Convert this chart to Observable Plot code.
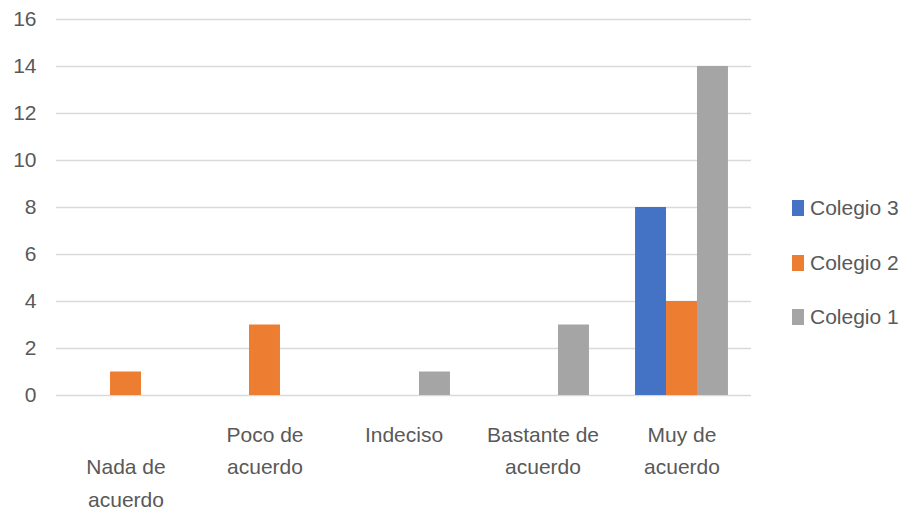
<!DOCTYPE html>
<html>
<head>
<meta charset="utf-8">
<script src="https://cdn.jsdelivr.net/npm/d3@7"></script>
<script src="https://cdn.jsdelivr.net/npm/@observablehq/plot@0.6"></script>
<style>
  html, body { margin: 0; padding: 0; background: #fff; }
  #wrap { position: relative; width: 900px; height: 515px; font-family: 'Liberation Sans', Arial, sans-serif; color: #595959; }
  #legend { position: absolute; left: 792px; top: 0; }
  .item { position: absolute; left: 0; display: flex; align-items: center; white-space: nowrap; font-size: 21px; }
  .sw { width: 12px; height: 16px; margin-right: 6px; }
</style>
</head>
<body>
<div id="wrap"><div id="chart"></div><div id="legend"></div></div>
<script>
const categories = ["Nada de acuerdo", "Poco de acuerdo", "Indeciso", "Bastante de acuerdo", "Muy de acuerdo"];
// Excel wraps these labels; the first one sits one line lower (leading empty line)
const categoryLabels = ["\nNada de\nacuerdo", "Poco de\nacuerdo", "Indeciso", "Bastante de\nacuerdo", "Muy de\nacuerdo"];
const series = ["Colegio 3", "Colegio 2", "Colegio 1"];
const colegio3 = [0, 0, 0, 0, 8];
const colegio2 = [1, 3, 0, 0, 4];
const colegio1 = [0, 0, 1, 3, 14];
const colors = ["#4472C4", "#ED7D31", "#A5A5A5"];
const yTicks = [0, 2, 4, 6, 8, 10, 12, 14, 16];

const valuesBySeries = [colegio3, colegio2, colegio1];
const data = [];
series.forEach((s, si) => {
  categories.forEach((c, ci) => {
    const v = valuesBySeries[si][ci];
    if (v > 0) data.push({category: c, series: s, value: v});
  });
});
const labelOf = new Map(categories.map((c, i) => [c, categoryLabels[i]]));

const font = "'Liberation Sans', Arial, sans-serif";

const chart = Plot.plot({
  width: 900,
  height: 515,
  marginLeft: 55.5,
  marginRight: 149,
  marginTop: 19,
  marginBottom: 120,
  style: {fontFamily: font, fontSize: "21px", color: "#595959", background: "white", overflow: "visible"},
  fx: {domain: categories, padding: 0, axis: null, label: null},
  x: {domain: series, paddingInner: 0, paddingOuter: 0.744, round: false, axis: null},
  y: {domain: [0, 16], axis: null},
  color: {domain: series, range: colors},
  marks: [
    Plot.gridY(yTicks, {stroke: "#D9D9D9", strokeOpacity: 1, strokeWidth: 1.5}),
    Plot.barY(data, {fx: "category", x: "series", y: "value", fill: "series"}),
    Plot.axisY(yTicks, {tickSize: 0, tickPadding: 20, fontSize: 21, label: null, fill: "#595959"}),
    Plot.axisFx({anchor: "bottom", tickSize: 0, tickPadding: 23, fontSize: 21, lineHeight: 1.55, label: null, fill: "#595959", tickFormat: d => labelOf.get(d)})
  ]
});
document.getElementById("chart").appendChild(chart);

const legend = document.getElementById("legend");
const rowCenters = [208, 263, 317];
series.forEach((s, i) => {
  const item = document.createElement("div");
  item.className = "item";
  item.style.top = (rowCenters[i] - 14) + "px";
  item.style.height = "28px";
  const sw = document.createElement("div");
  sw.className = "sw";
  sw.style.background = colors[i];
  const t = document.createElement("span");
  t.textContent = s;
  item.appendChild(sw);
  item.appendChild(t);
  legend.appendChild(item);
});
</script>
</body>
</html>
